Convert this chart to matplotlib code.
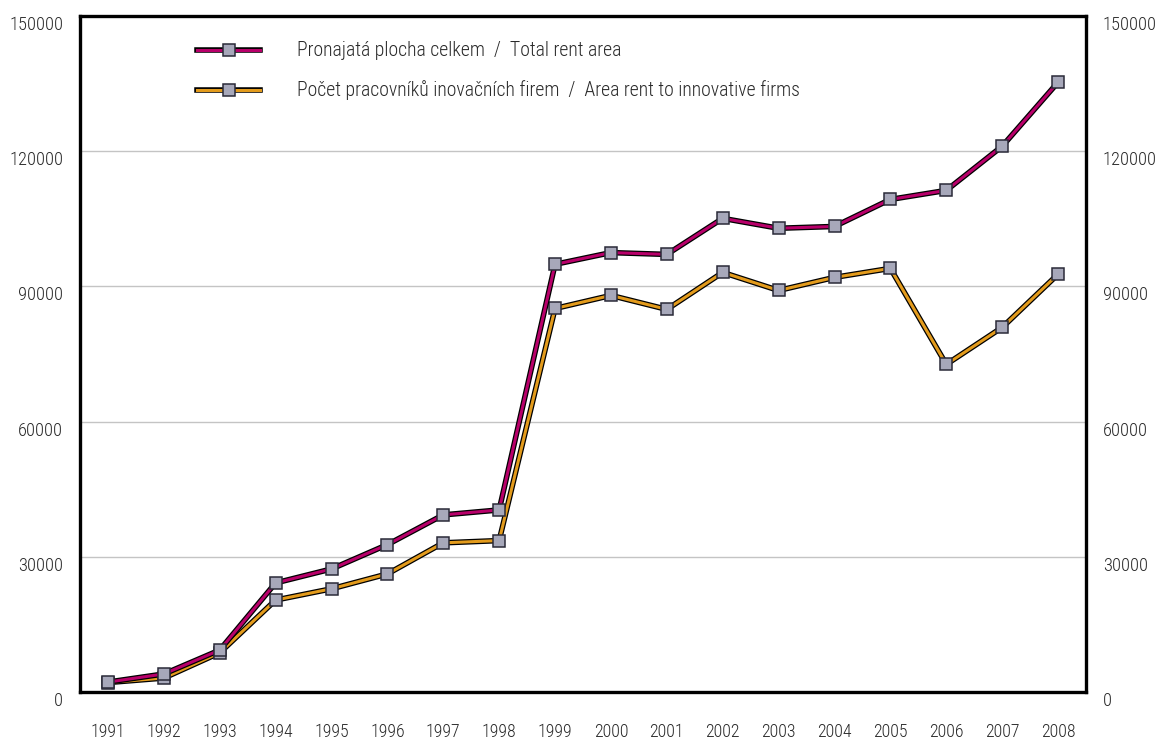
import matplotlib
matplotlib.use("Agg")
import matplotlib.pyplot as plt
from matplotlib.lines import Line2D
from matplotlib import font_manager

available = {f.name for f in font_manager.fontManager.ttflist}
narrow = [n for n in ['Roboto Condensed', 'Open Sans Condensed', 'Liberation Sans Narrow']
          if n in available]
plt.rcParams['font.family'] = narrow[:1] + ['Liberation Sans', 'DejaVu Sans']
scale = 1.12 if narrow else 1.0

years = ["1991", "1992", "1993", "1994", "1995", "1996", "1997", "1998", "1999",
         "2000", "2001", "2002", "2003", "2004", "2005", "2006", "2007", "2008"]
total_rent = [2200, 4000, 9300, 24200, 27300, 32700, 39300, 40400, 94900,
              97500, 97100, 105100, 102900, 103300, 109300, 111300, 121100, 135300]
innovative_rent = [2100, 3100, 8700, 20400, 22900, 26200, 33100, 33600, 85100,
                   88000, 84900, 93100, 89100, 92000, 94000, 72700, 80900, 92700]
labels = ["Pronajatá plocha celkem  /  Total rent area",
          "Počet pracovníků inovačních firem  /  Area rent to innovative firms"]
colors = ["#B8006A", "#E39B1C"]
y_ticks = [0, 30000, 60000, 90000, 120000, 150000]

W, H = 1157, 742
fig = plt.figure(figsize=(W / 100, H / 100), dpi=100)
ax = fig.add_axes([80 / W, (H - 692) / H, (1086 - 80) / W, (692 - 16) / H])

x = list(range(len(years)))
marker_kw = dict(marker='s', markersize=8.5, markerfacecolor='#A7A8BA',
                 markeredgecolor='#2A2A38', markeredgewidth=1.1, linestyle='none')

for vals, col, z in [(innovative_rent, colors[1], 3), (total_rent, colors[0], 4)]:
    ax.plot(x, vals, color='black', lw=4.0, solid_joinstyle='miter', zorder=z)
    ax.plot(x, vals, color=col, lw=2.2, solid_joinstyle='miter', zorder=z + 0.1)
    ax.plot(x, vals, zorder=z + 0.2, **marker_kw)

tick_color = '#2a2a2a'
ax.set_xlim(-0.5, len(years) - 0.5)
ax.set_ylim(0, 150000)
ax.set_xticks(x)
ax.set_xticklabels(years)
ax.set_yticks(y_ticks)
ax.set_yticklabels([str(v) for v in y_ticks])
ax.tick_params(axis='x', length=0, pad=22, labelsize=11.5 * scale, labelcolor=tick_color)
ax.tick_params(axis='y', length=0, pad=12, labelsize=11.9 * scale, labelcolor=tick_color)
for t in ax.get_yticklabels() + ax.get_xticklabels():
    t.set_fontweight('light')
for t in ax.get_yticklabels():
    t.set_va('top')

ax.yaxis.grid(True, color='#C4C4C4', lw=1.0)
ax.set_axisbelow(True)
for s in ax.spines.values():
    s.set_linewidth(2.4)
    s.set_color('black')

ax2 = ax.twinx()
ax2.set_ylim(ax.get_ylim())
ax2.set_yticks(y_ticks)
ax2.set_yticklabels([str(v) for v in y_ticks])
ax2.tick_params(axis='y', length=0, pad=12, labelsize=11.9 * scale, labelcolor=tick_color)
for t in ax2.get_yticklabels():
    t.set_va('top')
    t.set_fontweight('light')
for s in ax2.spines.values():
    s.set_visible(False)

# legend drawn in axes fraction coordinates
for i, (lab, col) in enumerate(zip(labels, colors)):
    yy = 0.9497 - i * 0.0592
    ax.add_line(Line2D([0.1163, 0.1789], [yy, yy], transform=ax.transAxes,
                       color='black', lw=4.0, zorder=6))
    ax.add_line(Line2D([0.1163, 0.1789], [yy, yy], transform=ax.transAxes,
                       color=col, lw=2.2, zorder=6.1))
    ax.add_line(Line2D([0.1481], [yy], transform=ax.transAxes, zorder=6.2, **marker_kw))
    ax.text(0.2157, yy, lab, transform=ax.transAxes, va='center', ha='left',
            fontsize=12.7 * scale, fontweight='light', color=tick_color)

fig.savefig("out.png", dpi=100)
